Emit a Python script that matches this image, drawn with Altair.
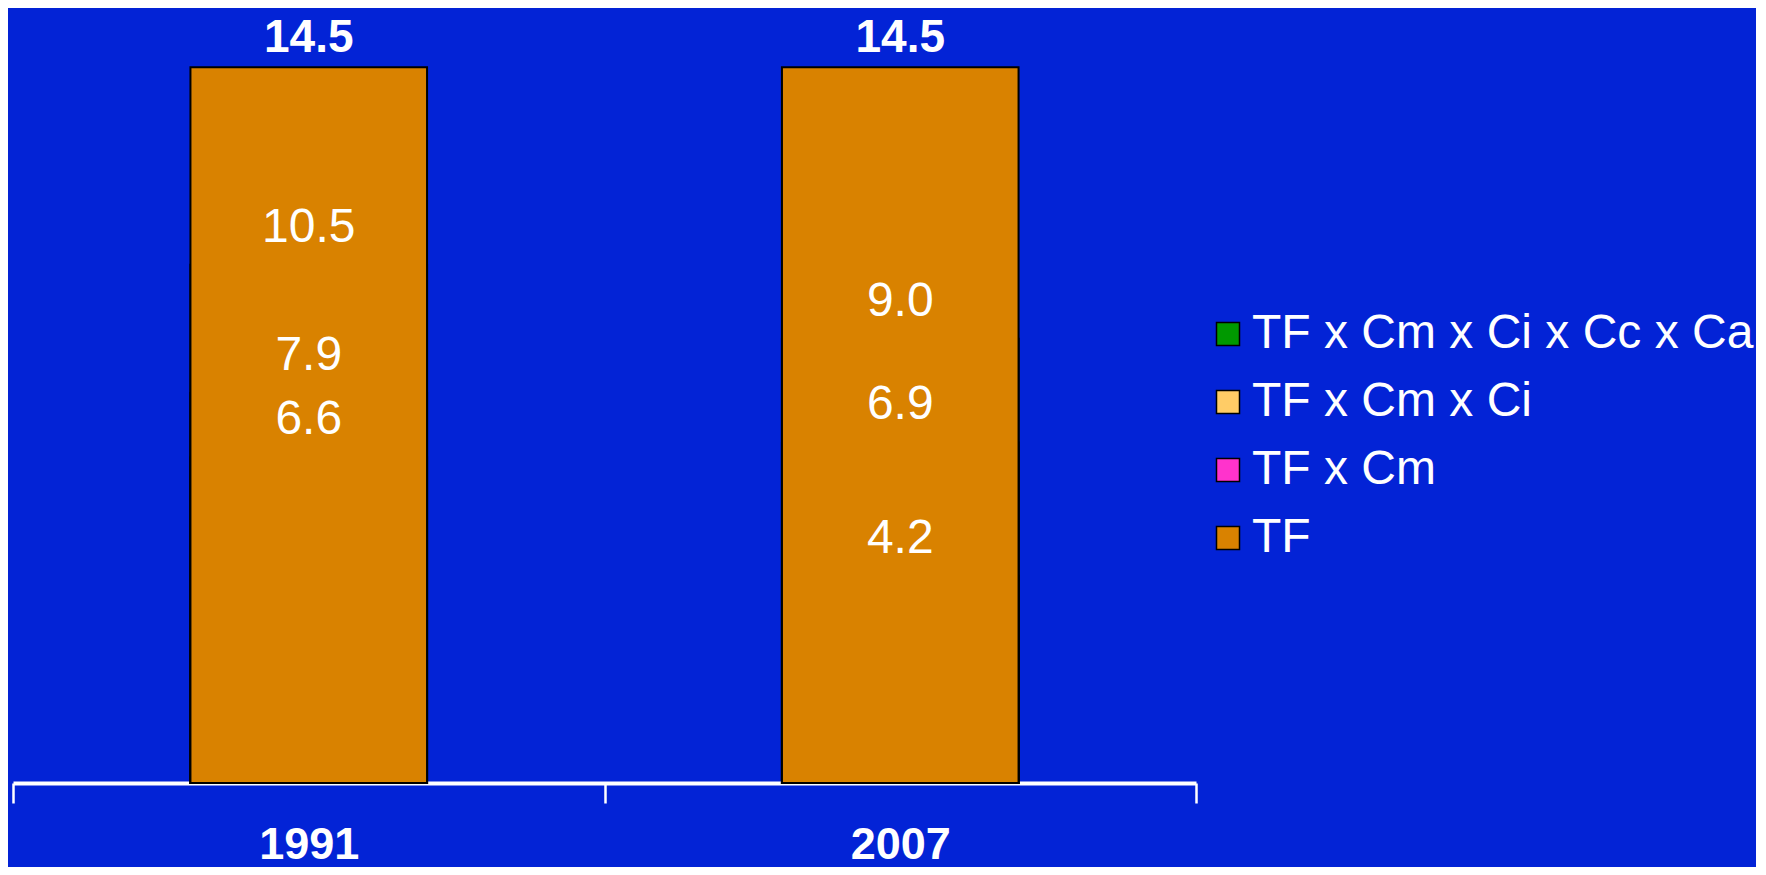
import altair as alt
import pandas as pd

years = ["1991", "2007"]
series = ["TF x Cm x Ci x Cc x Ca", "TF x Cm x Ci", "TF x Cm", "TF"]
colors = ["#009900", "#FFCC66", "#FF33CC", "#D98200"]
values_1991 = [6.6, 7.9, 10.5, 14.5]
values_2007 = [4.2, 6.9, 9.0, 14.5]

rows = []
for yr, vals in zip(years, [values_1991, values_2007]):
    for s, v in zip(series, vals):
        rows.append({"year": yr, "series": s, "value": v, "label": f"{v:.1f}",
                     "is_total": s == "TF"})
df = pd.DataFrame(rows)

FONT = "Liberation Sans"
BG = "#0323D6"

x_enc = alt.X("year:N", title=None, sort=years,
              scale=alt.Scale(paddingInner=0, paddingOuter=0),
              axis=alt.Axis(labelAngle=0, labelFont=FONT, labelFontSize=45,
                            labelFontWeight="bold", labelColor="white",
                            labelPadding=19, domainColor="white", domainWidth=4,
                            tickColor="white", tickWidth=2.5, tickSize=20,
                            tickBand="extent", grid=False))
y_scale = alt.Scale(domain=[0, 15.6], nice=False, zero=True)

bars = alt.Chart(df).mark_bar(stroke="black", strokeWidth=2,
                              width=alt.RelativeBandSize(0.4)).encode(
    x=x_enc,
    y=alt.Y("value:Q", scale=y_scale, axis=None, stack=None),
    color=alt.Color("series:N",
                    scale=alt.Scale(domain=series, range=colors),
                    legend=alt.Legend(title=None, orient="none", legendX=1191, legendY=297,
                                      padding=0, labelFont=FONT, labelFontSize=48,
                                      labelColor="white", labelOffset=0,
                                      symbolType="square", symbolSize=529,
                                      symbolStrokeColor="black", symbolStrokeWidth=1.5,
                                      rowPadding=20, labelLimit=1000)),
    order=alt.Order("value:Q", sort="ascending"),
)

inner = alt.Chart(df).transform_filter("!datum.is_total").mark_text(
    font=FONT, fontSize=48, color="white", baseline="middle", dy=-37
).encode(
    x=alt.X("year:N", sort=years),
    y=alt.Y("value:Q", scale=y_scale),
    text="label:N",
)

top = alt.Chart(df).transform_filter("datum.is_total").mark_text(
    font=FONT, fontSize=46, fontWeight="bold", color="white", baseline="middle", dy=-29
).encode(
    x=alt.X("year:N", sort=years),
    y=alt.Y("value:Q", scale=y_scale),
    text="label:N",
)

chart = alt.layer(bars, inner, top).properties(
    width=1183, height=770,
    autosize=alt.AutoSizeParams(type="none"),
    padding={"left": 5, "top": 5, "right": 560, "bottom": 84},
).configure(background=BG).configure_view(stroke=None)

chart.save("out.html", embed_options={"renderer": "svg", "actions": False})
